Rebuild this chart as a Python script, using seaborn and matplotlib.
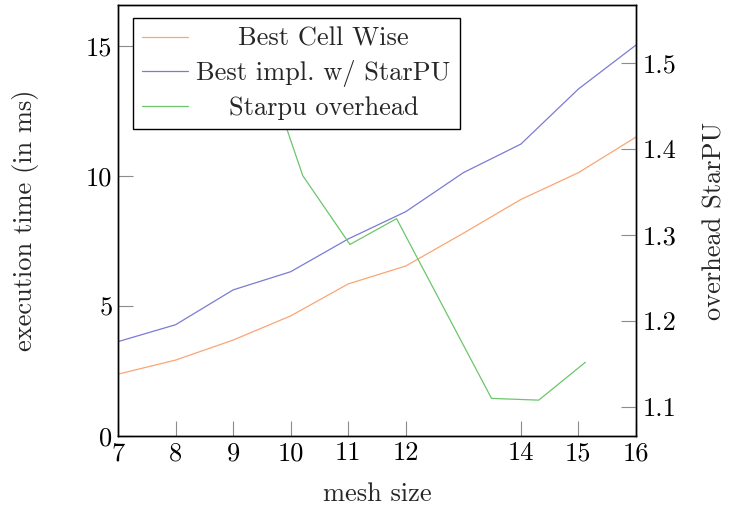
import matplotlib
matplotlib.use("Agg")
import matplotlib.pyplot as plt
import seaborn as sns
import pandas as pd

# mesh sizes and timings (ms)
mesh = [7, 8, 9, 10, 11, 12, 13, 14, 15, 16]
best_cell_wise = [2.38, 2.92, 3.69, 4.62, 5.85, 6.54, 7.8, 9.1, 10.13, 11.5]
best_starpu = [3.63, 4.28, 5.62, 6.32, 7.58, 8.63, 10.13, 11.23, 13.35, 15.04]

# overhead curve (right axis)
overhead_x = [9.39, 10.21, 11.03, 11.84, 13.49, 14.31, 15.12]
overhead = [1.53, 1.369, 1.289, 1.319, 1.11, 1.108, 1.152]

x_ticks = [7, 8, 9, 10, 11, 12, 14, 15, 16]
left_ticks = [0, 5, 10, 15]
right_ticks = [1.1, 1.2, 1.3, 1.4, 1.5]

c_orange = "#fba574"
c_blue = "#7b7bd4"
c_green = "#6cc66c"

sns.set_theme(style="white")
plt.rcParams["font.family"] = ["cmr10", "DejaVu Serif"]
plt.rcParams["mathtext.fontset"] = "cm"
plt.rcParams["axes.formatter.use_mathtext"] = True
FS = 19

df = pd.DataFrame({"mesh": mesh, "cell": best_cell_wise, "starpu": best_starpu})
df_ov = pd.DataFrame({"mesh": overhead_x, "overhead": overhead})

fig = plt.figure(figsize=(7.4, 5.11), dpi=100)
ax = fig.add_axes([118 / 740, 1 - 436 / 511, 518 / 740, 431 / 511])
ax2 = ax.twinx()

sns.lineplot(data=df, x="mesh", y="cell", ax=ax, color=c_orange, lw=0.9, label="Best Cell Wise", legend=False)
sns.lineplot(data=df, x="mesh", y="starpu", ax=ax, color=c_blue, lw=0.9, label="Best impl. w/ StarPU", legend=False)
sns.lineplot(data=df_ov, x="mesh", y="overhead", ax=ax2, color=c_green, lw=0.9, label="Starpu overhead", legend=False)

ax.set_xlim(7, 16)
ax.set_ylim(0, 16.58)
ax2.set_ylim(1.0663, 1.5674)

ax.set_xticks(x_ticks)
ax.set_xticklabels([str(v) for v in x_ticks])
ax.set_yticks(left_ticks)
ax.set_yticklabels([str(v) for v in left_ticks])
ax2.set_yticks(right_ticks)
ax2.set_yticklabels([f"{v:.1f}" for v in right_ticks])

ax.tick_params(axis="both", direction="in", length=11, width=0.8, color="0.55",
               labelsize=FS, labelcolor="black", pad=4)
ax.tick_params(axis="y", left=True, right=False)
ax.tick_params(axis="x", bottom=True, top=False)
ax2.tick_params(axis="y", direction="in", length=11, width=0.8, color="0.55",
                labelsize=FS, labelcolor="black", pad=5, right=True, left=False)

for a in (ax, ax2):
    for s in a.spines.values():
        s.set_color("black")
        s.set_linewidth(1.0)

ax.set_xlabel("mesh size", fontsize=FS, labelpad=12)
ax.set_ylabel("execution time (in ms)", fontsize=FS, labelpad=34)
ax2.set_ylabel("overhead StarPU", fontsize=FS, labelpad=19)

h1, l1 = ax.get_legend_handles_labels()
h2, l2 = ax2.get_legend_handles_labels()
leg = ax2.legend(h1 + h2, l1 + l2, loc="upper left", bbox_to_anchor=(15 / 518, 1 - 13 / 431),
                 fontsize=FS, frameon=True, fancybox=False, framealpha=1, edgecolor="black",
                 borderpad=0.35, handlelength=1.75, handletextpad=0.3, labelspacing=0.35,
                 borderaxespad=0)
leg.get_frame().set_linewidth(1.0)

# center legend labels like pgfplots
fig.canvas.draw()
r = fig.canvas.get_renderer()
widths = [t.get_window_extent(r).width for t in leg.get_texts()]
wmax = max(widths)
for t, w in zip(leg.get_texts(), widths):
    t.set_x((wmax - w) / 2)

fig.savefig("out.png", dpi=100)
